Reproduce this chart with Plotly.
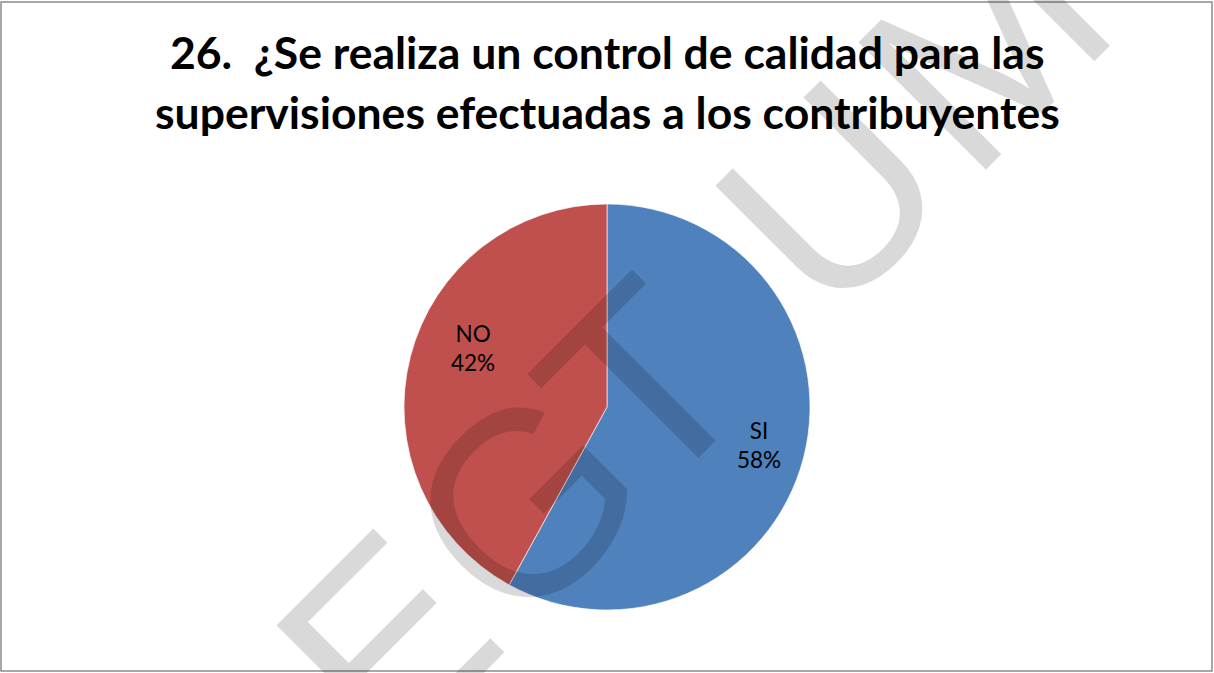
import math
import plotly.graph_objects as go

# ---- data ----
categories = ["SI", "NO"]
values = [58, 42]
colors = ["#4F81BD", "#C0504D"]
title_lines = ["26.\u00a0 ¿Se realiza un control de calidad para las",
               "supervisiones efectuadas a los contribuyentes"]
watermark_letters = ["E", "G", "T", "U", "M"]
watermark_u = [-181, 15, 182, 449, 665]   # position of each letter along the diagonal (px)

W, H = 1214, 673
cx, cy, R = 607, 407, 203  # pixel centre / radius of pie

fig = go.Figure()
fig.add_trace(go.Pie(
    labels=categories, values=values, sort=False, direction="clockwise",
    rotation=0, marker=dict(colors=colors, line=dict(color="rgba(255,255,255,0.8)", width=0.8)),
    textinfo="none", hoverinfo="label+percent", showlegend=False,
    domain=dict(x=[(cx - R) / W, (cx + R) / W], y=[1 - (cy + R) / H, 1 - (cy - R) / H]),
))

annotations = []
# data labels placed at slice mid-angles
total = sum(values)
start = 0.0
label_r = [0.77, 0.72]
label_shift = [-0.5, 9.6]  # angular nudge (deg) to mimic the original placement
for i, (lab, v) in enumerate(zip(categories, values)):
    frac = v / total
    mid = (start + frac / 2) * 360 + label_shift[i]
    start += frac
    px = cx + math.sin(math.radians(mid)) * R * label_r[i]
    py = cy - math.cos(math.radians(mid)) * R * label_r[i]
    annotations.append(dict(
        x=px / W, y=1 - py / H, xref="paper", yref="paper",
        text=f"{lab}<br>{round(frac * 100)}%", showarrow=False,
        font=dict(family="Lato, Carlito, sans-serif", size=22.5, color="#000000"),
        align="center", xanchor="center", yanchor="middle"))

# title lines
for k, (line, ypix) in enumerate(zip(title_lines, [52, 112])):
    annotations.append(dict(
        x=0.5, y=1 - ypix / H, xref="paper", yref="paper", text=line,
        showarrow=False, xanchor="center", yanchor="middle",
        font=dict(family="Lato, sans-serif", size=44.5, color="#000000", weight="bold")))

# watermark letters along a 45-degree line
s2 = math.sqrt(2)
v_anchor = -727
for ch, u in zip(watermark_letters, watermark_u):
    x = (u - v_anchor) / s2
    y = (-u - v_anchor) / s2
    annotations.append(dict(
        x=x / W, y=1 - y / H, xref="paper", yref="paper", text=ch,
        showarrow=False, textangle=-45, xanchor="center", yanchor="middle",
        font=dict(family="Liberation Sans, Arial, sans-serif", size=262,
                  color="rgba(0,0,0,0.15)")))

fig.update_layout(
    width=W, height=H, margin=dict(l=0, r=0, t=0, b=0),
    paper_bgcolor="white", plot_bgcolor="white",
    annotations=annotations,
    shapes=[dict(type="rect", xref="paper", yref="paper",
                 x0=1 / W, x1=1212 / W, y0=1 - 671 / H, y1=1 - 2 / H,
                 line=dict(color="#8c8c8c", width=1.5), fillcolor="rgba(0,0,0,0)", layer="above")],
)

fig.write_html("out.html")
